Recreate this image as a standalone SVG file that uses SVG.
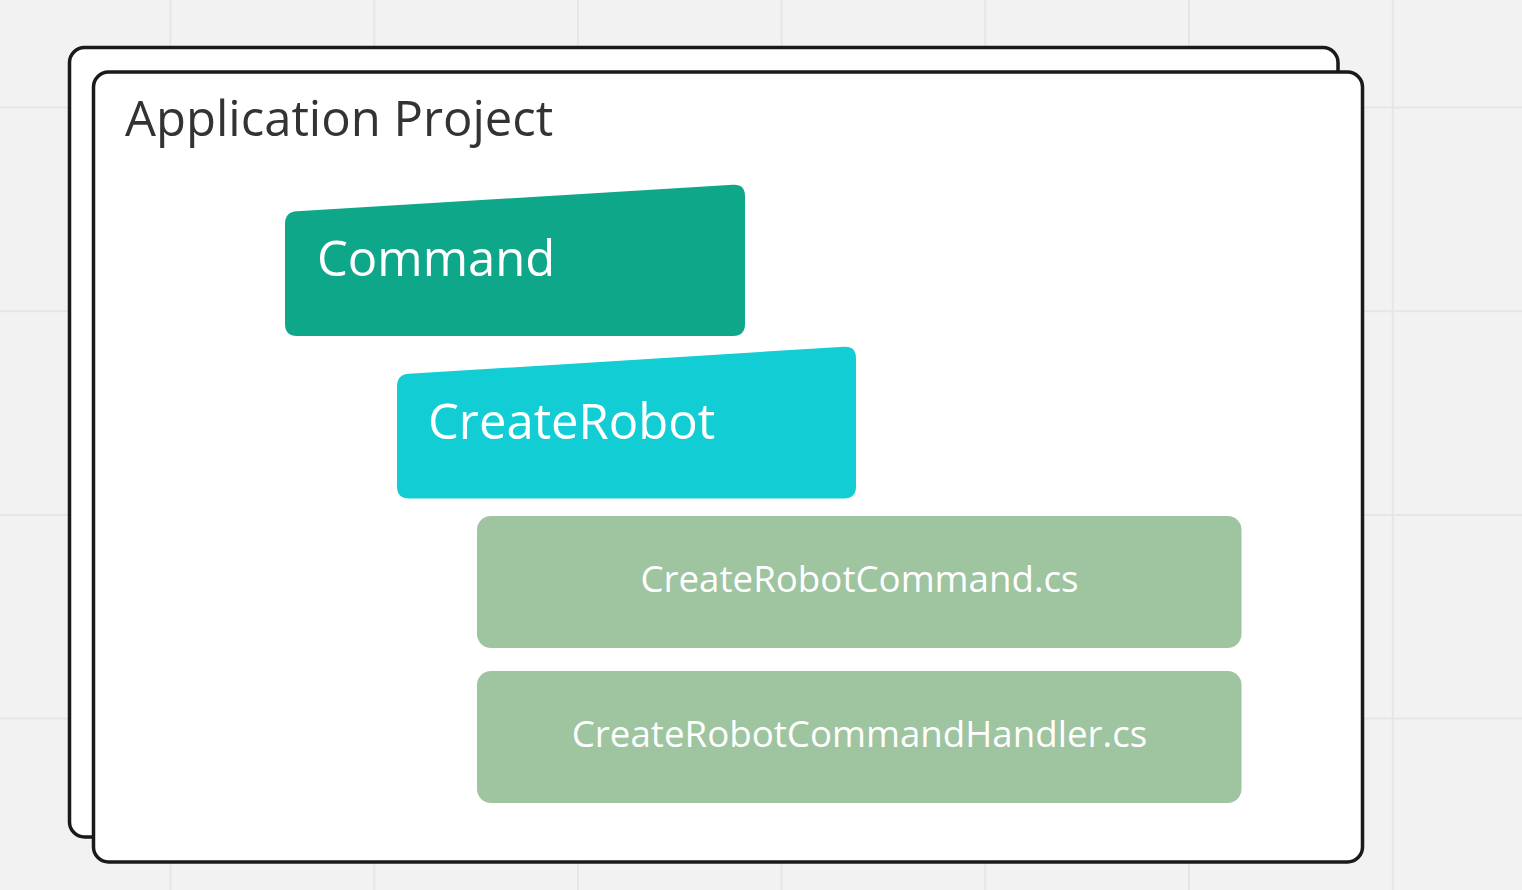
<svg xmlns="http://www.w3.org/2000/svg" width="1522" height="890" viewBox="0 0 1522 890">
  <style>
    .grid { stroke: #e6e6e6; stroke-width: 2; }
    .frame { fill: #ffffff; stroke: #1a1a1a; stroke-width: 3.5; }
    .title { font-family: "Open Sans", "Noto Sans", sans-serif; font-size: 49px; fill: #333333; }
    .big { font-family: "Open Sans", "Noto Sans", sans-serif; font-size: 49px; fill: #ffffff; }
    .file { font-family: "Open Sans", "Noto Sans", sans-serif; font-size: 36.7px; fill: #ffffff; text-anchor: middle; }
    .file-box { fill: #9ec4a0; }
  </style>
  <rect width="1522" height="890" fill="#f2f2f2"/>
  <g id="grid">
    <line class="grid" x1="170.5" y1="0" x2="170.5" y2="890"/>
    <line class="grid" x1="374.2" y1="0" x2="374.2" y2="890"/>
    <line class="grid" x1="577.9" y1="0" x2="577.9" y2="890"/>
    <line class="grid" x1="781.6" y1="0" x2="781.6" y2="890"/>
    <line class="grid" x1="985.3" y1="0" x2="985.3" y2="890"/>
    <line class="grid" x1="1189" y1="0" x2="1189" y2="890"/>
    <line class="grid" x1="1392.7" y1="0" x2="1392.7" y2="890"/>
    <line class="grid" x1="0" y1="107.5" x2="1522" y2="107.5"/>
    <line class="grid" x1="0" y1="311.2" x2="1522" y2="311.2"/>
    <line class="grid" x1="0" y1="514.9" x2="1522" y2="514.9"/>
    <line class="grid" x1="0" y1="718.6" x2="1522" y2="718.6"/>
  </g>
  <g id="back-frame">
    <rect class="frame" x="69.5" y="47.5" width="1268.5" height="789.5" rx="15" ry="15"/>
  </g>
  <g id="application-project">
    <rect class="frame" x="93.5" y="72" width="1269" height="790" rx="15" ry="15"/>
    <text class="title" x="125" y="136">Application Project</text>
  </g>
  <g id="command">
    <path fill="#0ea789" d="M285,224 Q285,212 297,211.3 L733,184.7 Q745,184 745,196 L745,324 Q745,336 733,336 L297,336 Q285,336 285,324 Z"/>
    <text class="big" x="317" y="276">Command</text>
  </g>
  <g id="create-robot">
    <path fill="#13cdd4" d="M397,386.5 Q397,374.5 409,373.8 L844,346.7 Q856,346 856,358 L856,486.5 Q856,498.5 844,498.5 L409,498.5 Q397,498.5 397,486.5 Z"/>
    <text class="big" x="428" y="439">CreateRobot</text>
  </g>
  <g id="create-robot-command">
    <rect class="file-box" x="477" y="516" width="764.5" height="132" rx="14" ry="14"/>
    <text class="file" x="859.5" y="592">CreateRobotCommand.cs</text>
  </g>
  <g id="create-robot-command-handler">
    <rect class="file-box" x="477" y="671" width="764.5" height="132" rx="14" ry="14"/>
    <text class="file" x="859.5" y="747">CreateRobotCommandHandler.cs</text>
  </g>
  <g id="connectors"></g>
</svg>
